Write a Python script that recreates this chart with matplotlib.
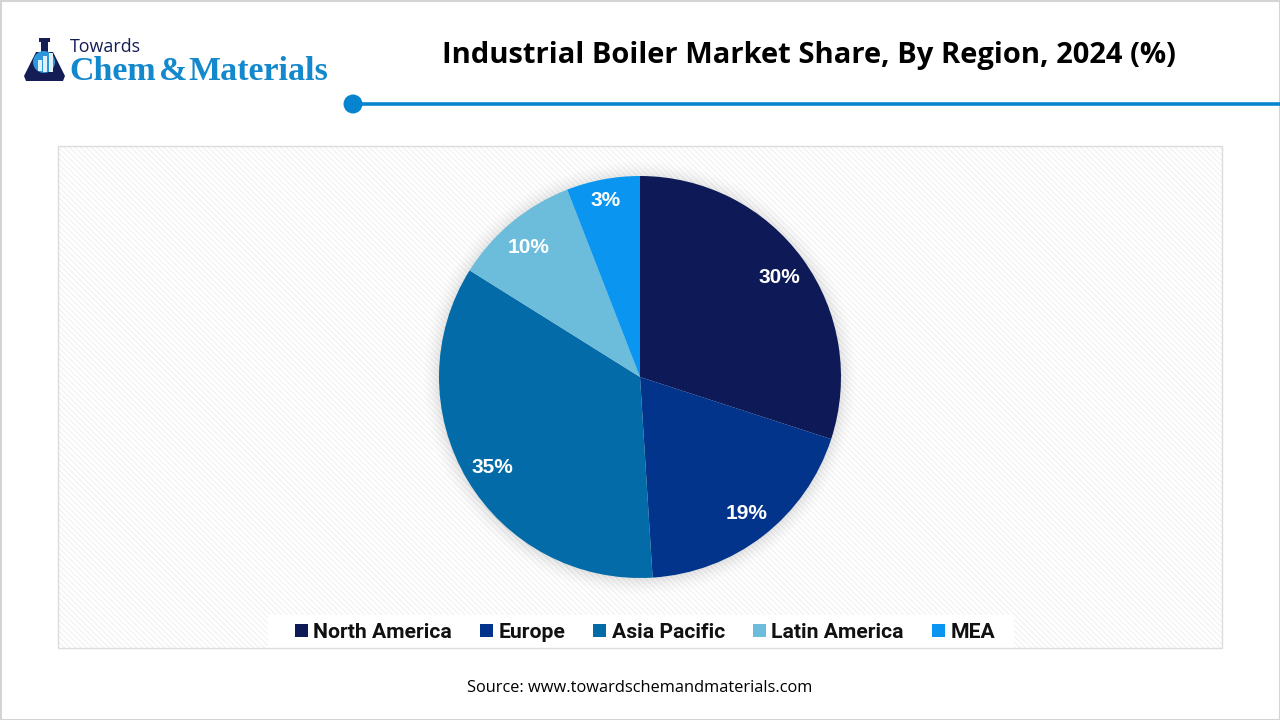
import matplotlib
matplotlib.use("Agg")
import matplotlib.pyplot as plt
from matplotlib.patches import Rectangle, Circle, Polygon

regions = ["North America", "Europe", "Asia Pacific", "Latin America", "MEA"]
slice_sizes = [30, 19.0, 34.9, 10.2, 5.9]
value_labels = ["30%", "19%", "35%", "10%", "3%"]
colors = ["#0e1a57", "#03348c", "#036ca8", "#6bbddb", "#0a96f0"]

W, H = 1280, 720
fig = plt.figure(figsize=(W / 100, H / 100), dpi=100, facecolor="white")

bg = fig.add_axes([0, 0, 1, 1], zorder=0)
bg.set_xlim(0, W)
bg.set_ylim(H, 0)
bg.axis("off")

# outer frame
bg.add_patch(Rectangle((0.5, 0.5), W - 1, H - 1, fc="none", ec="#d4d4d4", lw=1.5))

# plot panel with fine diagonal hatch
matplotlib.rcParams["hatch.linewidth"] = 0.8
bg.add_patch(Rectangle((58, 146), 1164, 502, fc="white", ec="none"))
bg.add_patch(Rectangle((58, 146), 1164, 502, fc="none", ec="#f1f1f1", hatch="\\\\\\\\\\\\", lw=0))
# legend background strip
bg.add_patch(Rectangle((268, 615), 746, 33, fc="white", ec="none"))
bg.add_patch(Rectangle((58, 146), 1164, 502, fc="none", ec="#dcdcdc", lw=1))

# soft shadow behind pie
for r, a in zip(range(216, 200, -2), [0.006, 0.008, 0.009, 0.01, 0.012, 0.014, 0.016, 0.018]):
    bg.add_patch(Circle((640, 378), r, fc="black", ec="none", alpha=a))

# header rule
bg.plot([353, 1280], [104, 104], color="#0784cf", lw=2.6, solid_capstyle="butt")
bg.add_patch(Circle((353, 104), 9.5, fc="#0784cf", ec="none"))

# logo: flask
navy = "#141d55"
blue = "#1488cc"
bg.add_patch(Rectangle((39, 38), 11, 4, fc=navy, ec="none"))
bg.add_patch(Rectangle((41, 42), 7, 10, fc=navy, ec="none"))
bg.add_patch(Polygon([[36, 52], [24, 76], [26, 81], [63, 81], [65, 76], [53, 52]], closed=True, fc=navy, ec="none"))
bg.add_patch(Circle((44, 62), 11, fc="#2b96d8", ec="none"))
for x, top, hgt in [(38, 60, 11), (43, 56, 16), (49, 53, 19)]:
    bg.add_patch(Rectangle((x, top), 3.5, hgt, fc="#dff0fa", ec="none"))

bg.text(70, 46.5, "Towards", fontsize=12.9, family="Open Sans", color=navy, ha="left", va="center")
bg.text(69, 71, "Chem", fontsize=24.5, family="Liberation Serif", weight="bold", color=blue, ha="left", va="center")
bg.text(159, 71, "&", fontsize=24.5, family="Liberation Serif", weight="bold", color=blue, ha="left", va="center")
bg.text(188, 71, "Materials", fontsize=24.5, family="Liberation Serif", weight="bold", color=blue, ha="left", va="center")

# title
bg.text(808.5, 55, "Industrial Boiler Market Share, By Region, 2024 (%)", fontsize=21,
        family="Open Sans", weight="bold", color="black", ha="center", va="center")

# source
bg.text(640, 687.5, "Source: www.towardschemandmaterials.com", fontsize=11.75,
        family="Open Sans", color="black", ha="center", va="center")

# pie
R, cx, cy = 201, 640, 377
ax = fig.add_axes([(cx - R) / W, 1 - (cy + R) / H, 2 * R / W, 2 * R / H], zorder=1)
wedges, texts = ax.pie(slice_sizes, labels=value_labels, colors=colors, startangle=90,
                       counterclock=False, labeldistance=0.855, radius=1,
                       textprops=dict(color="white", fontsize=15, weight="bold", family="Liberation Sans"))
nudges = [(0, -0.01), (0.005, -0.005), (0, -0.015), (-0.01, -0.015), (-0.015, 0.04)]
for t, (dx, dy) in zip(texts, nudges):
    t.set_ha("center")
    t.set_va("center")
    x, y = t.get_position()
    t.set_position((x + dx, y + dy))
ax.set_xlim(-1, 1)
ax.set_ylim(-1, 1)

# legend
leg = fig.legend(wedges, regions, loc="center", bbox_to_anchor=(645 / W, 1 - 632.5 / H), ncol=5,
                 frameon=False,
                 prop=dict(family="Roboto", weight="bold", size=15.2), handlelength=0.62, handleheight=0.62,
                 handletextpad=0.25, columnspacing=1.33, borderpad=0, borderaxespad=0)
leg.set_zorder(5)
for t in leg.get_texts():
    t.set_color("#111111")

fig.savefig("out.png", dpi=100)
